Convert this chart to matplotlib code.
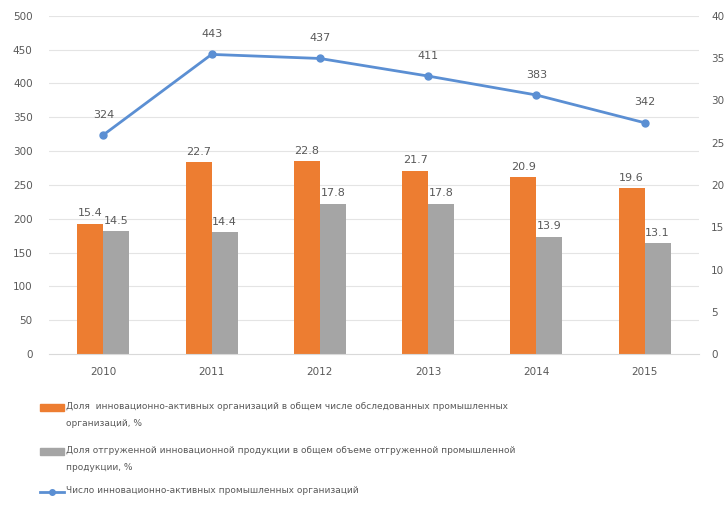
import matplotlib.pyplot as plt
import numpy as np
from matplotlib.lines import Line2D
from matplotlib.patches import Rectangle

years = ["2010", "2011", "2012", "2013", "2014", "2015"]
share_active = [15.4, 22.7, 22.8, 21.7, 20.9, 19.6]     # % of surveyed industrial organizations
share_shipped = [14.5, 14.4, 17.8, 17.8, 13.9, 13.1]    # % of shipped industrial products
n_active = [324, 443, 437, 411, 383, 342]               # number of innovation-active organizations

legend_labels = [
    "Доля  инновационно-активных организаций в общем числе обследованных промышленных\nорганизаций, %",
    "Доля отгруженной инновационной продукции в общем объеме отгруженной промышленной\nпродукции, %",
    "Число инновационно-активных промышленных организаций",
]

ORANGE = "#ED7D31"
GREY = "#A5A5A5"
BLUE = "#5B8FD3"
TXT = "#595959"

plt.rcParams["font.family"] = ["DejaVu Sans"]

fig = plt.figure(figsize=(7.24, 5.11), dpi=100)
ax = fig.add_axes([0.068, 0.307, 0.897, 0.662])
ax2 = ax.twinx()

x = np.arange(len(years))
w = 0.24
LEFT_MAX, RIGHT_MAX = 500, 40

# horizontal grid follows the left ticks; drawn on ax2 so it stays behind the bars
for yv in np.arange(50, LEFT_MAX + 1, 50):
    ax2.axhline(yv * RIGHT_MAX / LEFT_MAX, color="#E4E4E4", lw=0.8, zorder=0)

# bars go on the right-hand (percent) axis
b1 = ax2.bar(x - w / 2, share_active, w, color=ORANGE, zorder=2)
b2 = ax2.bar(x + w / 2, share_shipped, w, color=GREY, zorder=2)
for rect, v in zip(b1, share_active):
    ax2.annotate(f"{v}", (rect.get_x() + rect.get_width() / 2, v), xytext=(0, 4),
                 textcoords="offset points", ha="center", va="bottom", fontsize=8, color=TXT)
for rect, v in zip(b2, share_shipped):
    ax2.annotate(f"{v}", (rect.get_x() + rect.get_width() / 2, v), xytext=(0, 4),
                 textcoords="offset points", ha="center", va="bottom", fontsize=8, color=TXT)
ax2.set_ylim(0, RIGHT_MAX)
ax2.set_yticks(np.arange(0, RIGHT_MAX + 1, 5))

# line on the left-hand axis, drawn above the bars
ax.set_zorder(ax2.get_zorder() + 1)
ax.patch.set_visible(False)
ax.plot(x, n_active, color=BLUE, lw=2, marker="o", ms=5, zorder=4)
for xi, v in zip(x, n_active):
    ax.annotate(f"{v}", (xi, v), xytext=(0, 11), textcoords="offset points",
                ha="center", va="bottom", fontsize=8, color=TXT)
ax.set_ylim(0, LEFT_MAX)
ax.set_yticks(np.arange(0, LEFT_MAX + 1, 50))
ax.set_xlim(-0.5, len(years) - 0.5)
ax.set_xticks(x)
ax.set_xticklabels(years)

for a in (ax, ax2):
    for s in a.spines.values():
        s.set_visible(False)
    a.tick_params(length=0, labelsize=7.5, labelcolor=TXT)
ax.spines["bottom"].set_visible(True)
ax.spines["bottom"].set_color("#D9D9D9")
ax.tick_params(axis="y", pad=12)
ax.tick_params(axis="x", pad=9)
ax2.tick_params(axis="y", pad=9)

# legend below the plot
fig.add_artist(Rectangle((40 / 724, 1 - 411 / 511), 24 / 724, 7 / 511,
                         transform=fig.transFigure, color=ORANGE))
fig.add_artist(Rectangle((40 / 724, 1 - 455 / 511), 24 / 724, 7 / 511,
                         transform=fig.transFigure, color=GREY))
fig.add_artist(Line2D([40 / 724, 64 / 724], [1 - 492 / 511] * 2, transform=fig.transFigure,
                      color=BLUE, lw=2))
fig.add_artist(Line2D([52 / 724], [1 - 492 / 511], transform=fig.transFigure,
                      color=BLUE, marker="o", ms=4))
for ypx, lab in zip([402, 446, 486], legend_labels):
    fig.text(66 / 724, 1 - ypx / 511, lab, fontsize=6.5, color=TXT, va="top",
             ha="left", linespacing=2.1)

fig.savefig("out.png", dpi=100)
